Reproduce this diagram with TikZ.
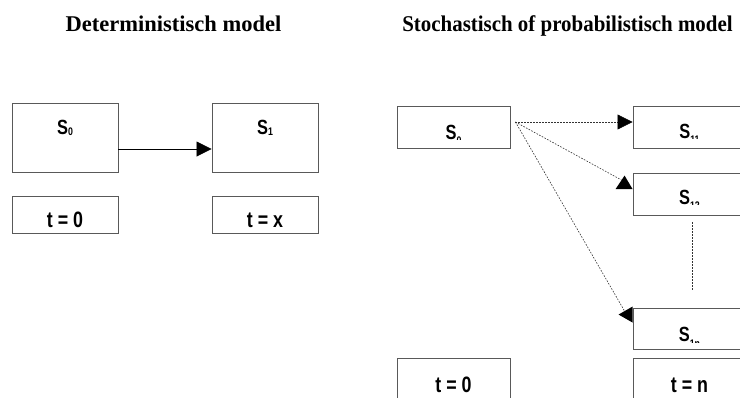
\documentclass[tikz,border=0pt]{standalone}
\usepackage{fontspec}
\setmainfont{Liberation Serif}
\newfontfamily\boxfont[FakeStretch=0.8]{Liberation Sans}
\usetikzlibrary{calc,arrows.meta}
% lowered subscript for the state labels
\newcommand\lowsub[2]{\raisebox{#1}{\fontsize{11}{12}\selectfont #2}}
% state label whose lower part is cut off just below the baseline
\newcommand\cutlabel[3]{%
  \coordinate (#1b) at ($(#1.center)+(0,#2)$);
  \begin{scope}
    \clip (#1.north west) rectangle ($(#1.east |- #1b)+(0,0.8)$);
    \node[lab] (#1t) at (#1b) {#3};
  \end{scope}}

\begin{document}
\begin{tikzpicture}[x=1pt,y=-1pt,
  box/.style={draw=black!65,line width=0.9pt,inner sep=0pt},
  lab/.style={font=\boxfont\bfseries\fontsize{20.5}{24}\selectfont,inner sep=0pt,anchor=base},
  tlab/.style={font=\boxfont\bfseries\fontsize{22.3}{26}\selectfont,inner sep=0pt,anchor=base},
  title/.style={font=\bfseries\fontsize{22.5}{27}\selectfont,inner sep=0pt,anchor=base},
  dotline/.style={draw=black!80,line width=0.6pt,dash pattern=on 1.6pt off 1.4pt}]

\clip (0,0) rectangle (740,397);

% titles
\node[title] (tdet) at (173.5,31.7) {Deterministisch model};
\node[title] (tsto) at (567.5,31.7) {\scalebox{0.93}[1]{Stochastisch of probabilistisch model}};

% deterministic model
\node[box,minimum width=106pt,minimum height=69pt] (s0l) at (65,137.5) {};
\node[box,minimum width=106pt,minimum height=69pt] (s1l) at (265,137.5) {};
\node[box,minimum width=106pt,minimum height=37pt] (tl0) at (65,214.5) {};
\node[box,minimum width=106pt,minimum height=37pt] (tlx) at (265,214.5) {};
\node[lab] (s0lt) at ($(s0l.center)+(0,-3.5)$) {S\lowsub{-1.8pt}{0}};
\node[lab] (s1lt) at ($(s1l.center)+(0,-3.5)$) {S\lowsub{-1.8pt}{1}};
\node[tlab] (tl0t) at ($(tl0.center)+(0,12.5)$) {t = 0};
\node[tlab] (tlxt) at ($(tlx.center)+(0,12.5)$) {t = x};
\draw[line width=0.8pt,-{Triangle[length=15pt,width=15pt]}]
  ($(s0l.east)+(0,11.5)$) -- ($(s1l.west)+(0,11.5)$);

% stochastic model
\node[box,minimum width=113pt,minimum height=42pt] (s0r) at (453.5,127) {};
\node[box,minimum width=113pt,minimum height=42pt] (s11) at (689.5,127) {};
\node[box,minimum width=113pt,minimum height=42pt] (s12) at (689.5,194) {};
\node[box,minimum width=113pt,minimum height=41pt] (s1n) at (689.5,328.5) {};
\node[box,minimum width=113pt,minimum height=45pt] (tr0) at (453.5,380.5) {};
\node[box,minimum width=113pt,minimum height=45pt] (trn) at (689.5,380.5) {};

\cutlabel{s0r}{12}{S\lowsub{-5.8pt}{0}}
\cutlabel{s11}{11}{S\lowsub{-5.8pt}{11}}
\cutlabel{s12}{10}{S\lowsub{-5.8pt}{12}}
\cutlabel{s1n}{13}{S\lowsub{-5.8pt}{1n}}
\node[tlab] (tr0t) at ($(tr0.north)+(0,35)$) {t = 0};
\node[tlab] (trnt) at ($(trn.north)+(0,35)$) {t = n};

\coordinate (fan) at ($(s0r.east)+(5,-5)$);
\draw[dotline,-{Triangle[length=15pt,width=15pt,black]}] (fan) -- (s11.west |- fan);
\draw[dotline] (fan) -- ($(s12.north west)+(-11,7.5)$);
\fill ($(s12.north west)+(-8,3)$) -- ($(s12.north west)+(-17,16.5)$)
  -- ($(s12.north west)+(0,16.5)$) -- cycle;
\draw[dotline] (fan) -- ($(s1n.north west)+(-8,3.5)$);
\fill ($(s1n.north west)+(-14,7)$) -- ($(s1n.north west)+(0,-1)$)
  -- ($(s1n.north west)+(0,15)$) -- cycle;
\draw[dotline] ($(s12.south)+(2.5,7)$) -- ($(s1n.north)+(2.5,-18)$);
\end{tikzpicture}
\end{document}
